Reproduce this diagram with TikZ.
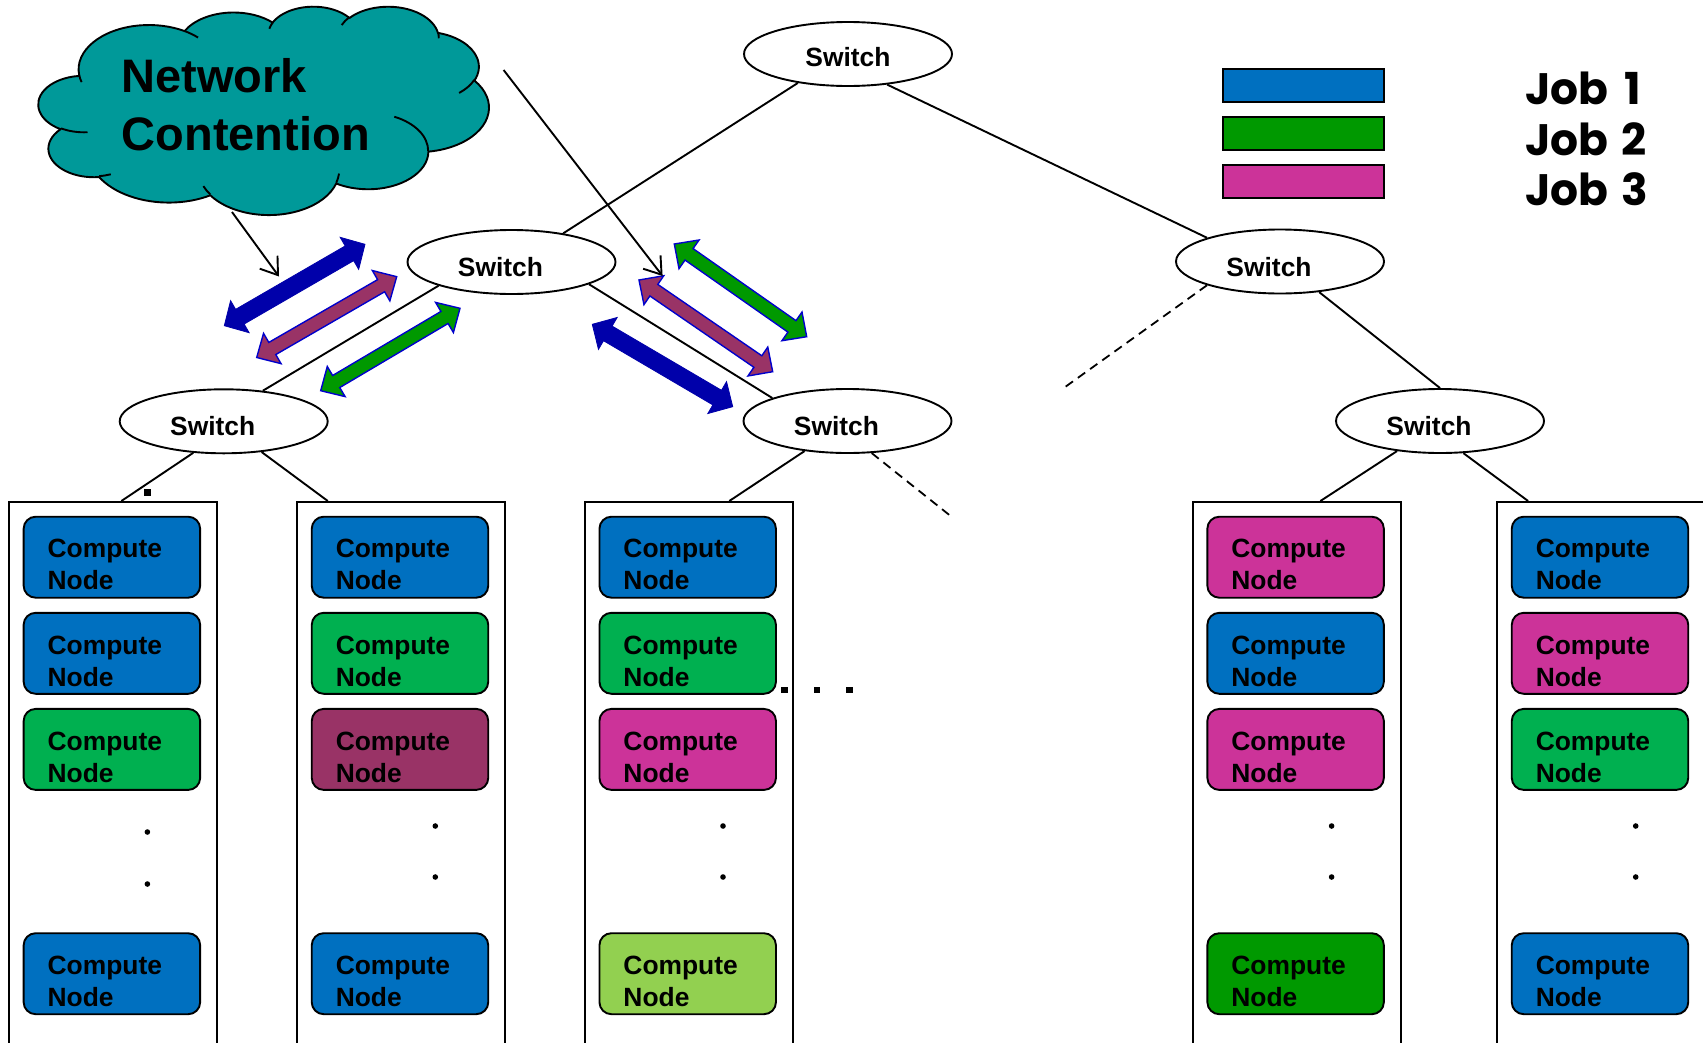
\documentclass[tikz,border=0pt]{standalone}
\usepackage{fontspec}
\setmainfont{Liberation Sans}
\newfontfamily\jobfont{Poppins}
\usetikzlibrary{shapes.geometric,arrows.meta,calc}

\definecolor{jobblue}{RGB}{0,112,192}
\definecolor{jobgreen}{RGB}{0,176,80}
\definecolor{darkjobgreen}{RGB}{0,153,0}
\definecolor{jobpink}{RGB}{204,51,153}
\definecolor{jobplum}{RGB}{153,51,102}
\definecolor{limegreen}{RGB}{146,208,80}
\definecolor{cloudteal}{RGB}{0,153,153}
\definecolor{flowblue}{RGB}{0,0,170}
\definecolor{rimblue}{RGB}{0,0,204}

% double-headed block arrow between two coordinates:
% #1 style, #2/#3 tips, #4 half shaft width, #5 half head width, #6 head length
\newcommand\blockarrow[6]{%
  \draw[#1] (#2)
    -- ($(#2)!#6!(#3)!#5!90:(#3)$)
    -- ($(#2)!#6!(#3)!#4!90:(#3)$)
    -- ($(#3)!#6!(#2)!#4!-90:(#2)$)
    -- ($(#3)!#6!(#2)!#5!-90:(#2)$)
    -- (#3)
    -- ($(#3)!#6!(#2)!#5!90:(#2)$)
    -- ($(#3)!#6!(#2)!#4!90:(#2)$)
    -- ($(#2)!#6!(#3)!#4!-90:(#3)$)
    -- ($(#2)!#6!(#3)!#5!-90:(#3)$)
    -- cycle;}

\begin{document}
\begin{tikzpicture}[x=1pt, y=-1pt,
  wire/.style={line width=1.9pt},
  dashedwire/.style={line width=1.8pt, dash pattern=on 9pt off 6pt},
  switchnode/.style={ellipse, draw, line width=1.9pt, fill=white,
    minimum width=208pt, minimum height=64pt, inner sep=0pt,
    font=\bfseries\fontsize{26.4}{30}\selectfont, text height=29pt, text depth=0pt},
  rack/.style={draw, line width=1.9pt, fill=white, minimum width=208pt,
    minimum height=560pt, anchor=north west, inner sep=0pt},
  cnode/.style={draw, line width=1.9pt, rounded corners=12pt,
    minimum width=176.5pt, minimum height=81pt, inner xsep=24pt, inner ysep=0pt,
    text width=128.5pt, align=left, font=\bfseries\fontsize{26.4}{32}\selectfont,
    text height=22pt, text depth=20.6pt},
  legendbar/.style={draw, line width=1.9pt, minimum width=160.8pt,
    minimum height=32.7pt, inner sep=0pt},
  joblabel/.style={anchor=base west, inner sep=0pt,
    font=\jobfont\bfseries\fontsize{44}{50}\selectfont},
  pointer/.style={line width=1.9pt, -{Straight Barb[length=16pt, width=22pt]}},
  cloudline/.style={line width=1.9pt, line join=round},
  cloudarc/.style n args={4}{x radius=#1, y radius=#2,
    start angle={atan2(#1*sin(#3),#2*cos(#3))},
    delta angle={mod(atan2(#1*sin(#3+#4),#2*cos(#3+#4))-atan2(#1*sin(#3),#2*cos(#3))+720,360)}},
  jobarrow/.style={draw=rimblue, line width=1.4pt, line join=miter},
]
\useasboundingbox (0,0) rectangle (1703,1042);

% ---------- cloud ----------
\begin{scope}[shift={(38.6,6)}, x=0.0104167pt, y=-0.0048148pt]
  \draw[cloudline, fill=cloudteal] (3900,14370)
    arc[cloudarc={6753}{9190}{-190.48748}{123.78053}]
    arc[cloudarc={5333}{7267}{-144.10238}{89.94523}]
    arc[cloudarc={4365}{5945}{-145.80792}{99.72302}]
    arc[cloudarc={4857}{6595}{-130.98607}{117.24173}]
    arc[cloudarc={5333}{7273}{-78.70888}{109.02692}]
    arc[cloudarc={6775}{9220}{-46.26725}{130.26900}]
    arc[cloudarc={5785}{7867}{0.62502}{114.03333}]
    arc[cloudarc={6752}{9215}{22.45160}{115.17255}]
    arc[cloudarc={7720}{10543}{66.24263}{75.71102}]
    arc[cloudarc={4360}{5918}{-274.94208}{146.73557}]
    arc[cloudarc={4345}{5945}{-246.82850}{152.51885}]
    -- cycle;
  \draw[cloudline]
    (4693,26177) arc[cloudarc={4345}{5945}{86.74200}{26.42950}]
    (6928,34899) arc[cloudarc={4360}{5918}{73.61047}{11.44747}]
    (16478,39090) arc[cloudarc={6752}{9215}{137.62415}{14.08110}]
    (28827,34751) arc[cloudarc={6752}{9215}{6.45327}{15.99835}]
    (34129,22954) arc[cloudarc={5785}{7867}{-70.29235}{70.91737}]
    (41798,15354) arc[cloudarc={5333}{7273}{30.31803}{27.75150}]
    (38324,5426) arc[cloudarc={4857}{6595}{-13.74433}{14.85890}]
    (29078,3952) arc[cloudarc={4857}{6595}{-149.18145}{18.19537}]
    (22141,4720) arc[cloudarc={4365}{5945}{-163.49427}{17.68635}]
    (14000,5192) arc[cloudarc={6753}{9190}{-66.70695}{12.31935}]
    (4127,15789) arc[cloudarc={6753}{9190}{157.65435}{11.85817}];
\end{scope}
\node[anchor=base west, inner sep=0pt, text width=320pt, align=left,
  font=\bfseries\fontsize{47}{58}\selectfont] (contention) at (121.5,92.7)
  {Network\\Contention};

% ---------- switches ----------
\node[switchnode, text height=25pt] (top) at (848,54) {Switch};
\node[switchnode] (midL) at (511.5,262) {\hspace*{-22pt}Switch};
\node[switchnode] (midR) at (1280,261.5) {\hspace*{-22pt}Switch};
\node[switchnode] (lowL) at (223.7,421.3) {\hspace*{-22pt}Switch};
\node[switchnode] (lowM) at (847.5,421) {\hspace*{-22pt}Switch};
\node[switchnode] (lowR) at (1440,421) {\hspace*{-22pt}Switch};

% ---------- racks of compute nodes ----------
\foreach \r/\xl/\ca/\cb/\cc/\cd in {
    1/7.9/jobblue/jobblue/jobgreen/jobblue,
    2/296/jobblue/jobgreen/jobplum/jobblue,
    3/583.7/jobblue/jobgreen/jobpink/limegreen,
    4/1191.6/jobpink/jobblue/jobpink/darkjobgreen,
    5/1496/jobblue/jobpink/jobgreen/jobblue} {
  \node[rack] (rack\r) at (\xl,501) {};
  \node[cnode, fill=\ca] (cn\r-1) at (\xl+104,557.2) {Compute\\Node};
  \node[cnode, fill=\cb] (cn\r-2) at (\xl+104,653.3) {Compute\\Node};
  \node[cnode, fill=\cc] (cn\r-3) at (\xl+104,749.4) {Compute\\Node};
  \node[cnode, fill=\cd] (cn\r-4) at (\xl+104,973.7) {Compute\\Node};
}

% vertical ellipsis dots inside the racks
\fill (147.4,832) circle (2.8) (147.4,884) circle (2.8);
\foreach \xd in {435.3,723,1331.6,1635.7}
  \fill (\xd,826) circle (2.8) (\xd,877) circle (2.8);
% stray mark above the first rack and the horizontal ellipsis
\fill (144,489) rectangle (151,496);
\foreach \xd in {784.3,817,849.3}
  \fill (\xd-3.3,686.7) rectangle (\xd+3.3,693.3);

% ---------- links ----------
\draw[wire] (top.-150.5) -- (midL.29.9);
\draw[wire] (top.-38.4) -- (midR.162.5);
\draw[wire] (midL.-162.7) -- (lowL.38.2);
\draw[wire] (midL.-16.5) -- (lowM.163);
\draw[wire] (midR.-38.7) -- (lowR.north);
\coordinate (moreA) at (1063,388.5);
\coordinate (moreB) at (952.5,517.5);
\draw[dashedwire] (midR.-162.8) -- (moreA);
\draw[dashedwire] (lowM.-53.7) -- (moreB);
\draw[wire] (lowL.-134) -- ([xshift=113.5pt]rack1.north west);
\draw[wire] (lowL.-39.4) -- ([xshift=31.8pt]rack2.north west);
\draw[wire] (lowM.-145.2) -- ([xshift=145.6pt]rack3.north west);
\draw[wire] (lowR.-145.1) -- ([xshift=128.8pt]rack4.north west);
\draw[wire] (lowR.-54.1) -- ([xshift=32.1pt]rack5.north west);

% ---------- traffic arrows ----------
\coordinate (tbA) at (224.3,325.7); \coordinate (tbB) at (365,244.3);
\coordinate (tpA) at (256.7,357.5); \coordinate (tpB) at (396.7,276.7);
\coordinate (tgA) at (320.7,390.7); \coordinate (tgB) at (460,308.3);
\coordinate (ugA) at (674.3,244);  \coordinate (ugB) at (806.7,336.7);
\coordinate (upA) at (639,280);    \coordinate (upB) at (772.7,371.7);
\coordinate (ubA) at (592.3,324.3); \coordinate (ubB) at (732.7,406.7);
\blockarrow{fill=flowblue, draw=flowblue, line width=0.8pt}{tbA}{tbB}{8.5pt}{18.5pt}{18pt}
\blockarrow{jobarrow, fill=jobplum}{tpA}{tpB}{7pt}{17.5pt}{18pt}
\blockarrow{jobarrow, fill=darkjobgreen}{tgA}{tgB}{7pt}{17.5pt}{18pt}
\blockarrow{jobarrow, fill=darkjobgreen}{ugA}{ugB}{7pt}{17.5pt}{18pt}
\blockarrow{jobarrow, fill=jobplum}{upA}{upB}{7pt}{17.5pt}{18pt}
\blockarrow{fill=flowblue, draw=flowblue, line width=0.8pt}{ubA}{ubB}{8.5pt}{18.5pt}{18pt}

% ---------- pointers from the cloud ----------
\coordinate (ptrAs) at (232,212);   \coordinate (ptrAe) at (279,276.5);
\coordinate (ptrBs) at (503.6,70);  \coordinate (ptrBe) at (662.6,276);
\draw[pointer] (ptrAs) -- (ptrAe);
\draw[pointer] (ptrBs) -- (ptrBe);

% ---------- legend ----------
\node[legendbar, fill=jobblue] (key1) at (1303.8,85.7) {};
\node[legendbar, fill=darkjobgreen] (key2) at (1303.8,133.7) {};
\node[legendbar, fill=jobpink] (key3) at (1303.8,181.7) {};
\node[joblabel] (job1) at (1525,104.3) {Job\hspace{7pt} 1};
\node[joblabel] (job2) at (1525,155) {Job\hspace{4pt} 2};
\node[joblabel] (job3) at (1525,205) {Job\hspace{4pt} 3};
\end{tikzpicture}
\end{document}
